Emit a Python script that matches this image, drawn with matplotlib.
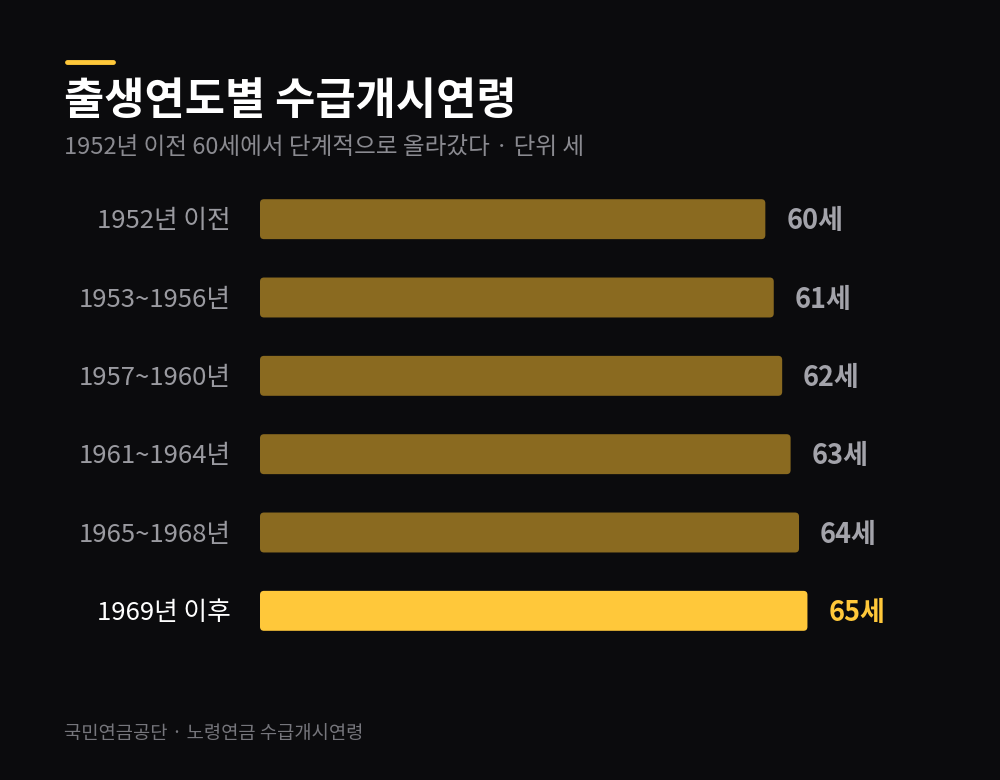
import matplotlib.pyplot as plt
from matplotlib.patches import FancyBboxPatch

plt.rcParams['font.family'] = ['Noto Sans CJK KR', 'DejaVu Sans']

# data
categories = ['1952년 이전', '1953~1956년', '1957~1960년', '1961~1964년', '1965~1968년', '1969년 이후']
ages = [60, 61, 62, 63, 64, 65]
highlight = [False, False, False, False, False, True]

bg = '#0b0b0d'
bar_muted = '#8a6a20'
bar_hi = '#ffc83a'

fig = plt.figure(figsize=(10, 7.8), dpi=100, facecolor=bg)
ax = fig.add_axes([0.26, 1 - 650 / 780, 0.758, 470 / 780])
ax.set_facecolor(bg)
ax.set_xlim(0, 90)
ax.set_ylim(len(categories) - 0.5, -0.5)
ax.axis('off')

bar_h = 0.51
# px per data unit, used to keep the corners round
px_x = 758 / 90
px_y = 470 / 6
for i, (cat, val, hi) in enumerate(zip(categories, ages, highlight)):
    col = bar_hi if hi else bar_muted
    box = FancyBboxPatch((0, i - bar_h / 2), val, bar_h,
                         boxstyle='round,pad=0,rounding_size=%.3f' % (4 / px_x),
                         mutation_aspect=px_x / px_y,
                         facecolor=col, edgecolor='none')
    ax.add_patch(box)
    ax.annotate(cat, xy=(0, i), xytext=(-21, -1.5), textcoords='offset points',
                ha='right', va='center', fontsize=18.5,
                color='white' if hi else '#9a9aa0', annotation_clip=False)
    ax.annotate('%d세' % val, xy=(val, i), xytext=(15, -1.5), textcoords='offset points',
                ha='left', va='center', fontsize=19.5, fontweight='bold',
                color=bar_hi if hi else '#a3a3aa', annotation_clip=False)

# header
fig.add_artist(plt.Line2D([0.067, 0.113], [1 - 62 / 780] * 2, color=bar_hi,
                          linewidth=3.5, solid_capstyle='round'))
fig.text(0.064, 1 - 101 / 780, '출생연도별 수급개시연령', fontsize=31.5, fontweight='bold',
         color='white', va='center', ha='left')
fig.text(0.064, 1 - 148 / 780, '1952년 이전 60세에서 단계적으로 올라갔다 · 단위 세',
         fontsize=17, color='#8a8a90', va='center', ha='left')
fig.text(0.064, 1 - 733 / 780, '국민연금공단 · 노령연금 수급개시연령',
         fontsize=13.5, color='#76767c', va='center', ha='left')

fig.savefig('out.png', dpi=100, facecolor=bg)
